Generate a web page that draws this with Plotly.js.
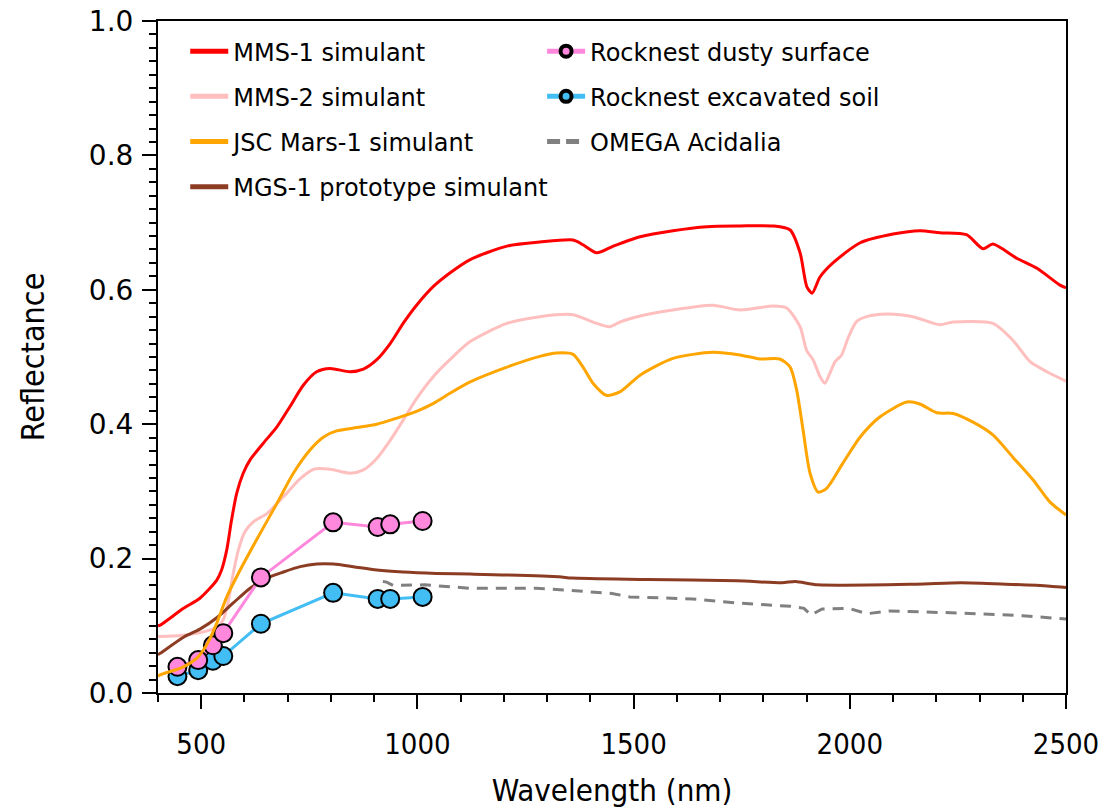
<!DOCTYPE html>
<html>
<head>
<meta charset="utf-8">
<script src="https://cdn.plot.ly/plotly-3.0.1.min.js"></script>
<style>html,body{margin:0;padding:0;background:#fff;}#chart{width:1112px;height:810px;}</style>
</head>
<body>
<div id="chart"></div>
<script>
// ---- data ----
const mms1X = [400,405,459,497,536,547,559,570,582,597,613,644,675,705,736,767,798,844,875,906,937,967,998,1037,1075,1122,1207,1283,1360,1383,1415,1453,1515,1591,1670,1746,1823,1862,1885,1901,1913,1931,1961,2024,2100,2162,2208,2270,2308,2331,2386,2433,2486,2500];
const mms1Y = [0.100,0.101,0.126,0.141,0.168,0.183,0.213,0.257,0.297,0.327,0.347,0.372,0.396,0.426,0.458,0.478,0.483,0.478,0.482,0.496,0.520,0.550,0.577,0.605,0.625,0.645,0.665,0.671,0.674,0.667,0.655,0.665,0.679,0.688,0.694,0.695,0.695,0.689,0.655,0.604,0.595,0.619,0.640,0.670,0.683,0.688,0.685,0.682,0.661,0.668,0.647,0.632,0.607,0.603];

const mms2X = [400,405,459,505,536,551,563,574,586,601,621,652,690,729,760,798,844,875,906,937,967,998,1037,1075,1122,1207,1283,1360,1406,1445,1468,1515,1591,1683,1746,1823,1854,1885,1900,1915,1931,1942,1954,1966,1981,1997,2016,2039,2086,2146,2208,2239,2331,2377,2417,2456,2500];
const mms2Y = [0.084,0.084,0.086,0.091,0.098,0.109,0.138,0.178,0.213,0.240,0.255,0.267,0.292,0.319,0.333,0.333,0.327,0.332,0.349,0.376,0.406,0.438,0.471,0.496,0.523,0.550,0.560,0.563,0.552,0.545,0.552,0.561,0.570,0.577,0.570,0.576,0.573,0.545,0.510,0.496,0.471,0.461,0.476,0.493,0.503,0.530,0.553,0.560,0.564,0.560,0.548,0.552,0.550,0.525,0.493,0.478,0.464];

const jscX = [400,405,459,490,505,520,536,559,590,628,675,713,752,783,813,860,906,952,998,1037,1075,1122,1207,1283,1322,1360,1383,1406,1437,1468,1515,1591,1683,1746,1792,1838,1862,1877,1892,1908,1927,1947,1984,2024,2070,2132,2162,2201,2239,2285,2331,2377,2424,2463,2500];
const jscY = [0.025,0.027,0.039,0.052,0.064,0.081,0.104,0.143,0.183,0.228,0.282,0.327,0.362,0.381,0.390,0.395,0.400,0.409,0.419,0.431,0.446,0.463,0.485,0.501,0.506,0.504,0.485,0.461,0.443,0.448,0.473,0.498,0.507,0.503,0.497,0.497,0.485,0.451,0.391,0.327,0.299,0.305,0.342,0.381,0.411,0.433,0.430,0.417,0.416,0.403,0.384,0.351,0.317,0.284,0.265];

const mgsX = [400,405,459,497,536,574,613,652,690,729,767,806,852,906,967,1044,1122,1327,1357,1533,1739,1843,1874,1926,2153,2257,2360,2463,2500];
const mgsY = [0.057,0.059,0.083,0.095,0.112,0.134,0.156,0.171,0.180,0.188,0.192,0.192,0.188,0.183,0.180,0.178,0.177,0.173,0.171,0.169,0.167,0.164,0.166,0.161,0.162,0.164,0.162,0.159,0.157];

const omegaX = [920,929,944,1017,1119,1274,1348,1399,1450,1491,1637,1739,1863,1894,1910,1936,1960,1998,2040,2091,2257,2400,2500];
const omegaY = [0.166,0.165,0.160,0.161,0.156,0.156,0.153,0.150,0.148,0.143,0.140,0.134,0.129,0.126,0.116,0.125,0.125,0.126,0.118,0.122,0.119,0.115,0.110];

const rockX = [445,493,527,551,638,805,908,937,1012];
const dustyY = [0.039,0.049,0.071,0.089,0.172,0.254,0.247,0.251,0.256];
const excavY = [0.025,0.034,0.048,0.055,0.103,0.149,0.140,0.140,0.143];

const names = ['MMS-1 simulant','MMS-2 simulant','JSC Mars-1 simulant','MGS-1 prototype simulant','Rocknest dusty surface','Rocknest excavated soil','OMEGA Acidalia'];
const xTicks = [500,1000,1500,2000,2500];

// ---- styling ----
const C = {mms1:'#ff0000', mms2:'#ffbfbf', jsc:'#ffa500', mgs:'#8c3c22', dusty:'#ff88dd', excav:'#42bef4', omega:'#808080'};
const LW = 3;

function line(x, y, color, extra) {
  return Object.assign({type:'scatter', mode:'lines', x:x, y:y, line:{color:color, width:LW, shape:'spline', smoothing:0.7}, showlegend:false, hoverinfo:'skip'}, extra || {});
}
function markers(x, y, color) {
  return {type:'scatter', mode:'lines+markers', x:x, y:y, showlegend:false, hoverinfo:'skip',
    line:{color:color, width:LW}, marker:{size:18, color:color, line:{color:'black', width:2}}};
}
function legLine(name, color, lg, extra) {
  return Object.assign({type:'scatter', mode:'lines', x:[null], y:[null], name:name, legend:lg, legendgroup:name,
    line:{color:color, width:5}, showlegend:true, hoverinfo:'skip'}, extra || {});
}
function legMarker(name, color, lg) {
  return {type:'scatter', mode:'lines+markers', x:[null], y:[null], name:name, legend:lg, legendgroup:name,
    line:{color:color, width:5}, marker:{size:11, color:color, line:{color:'black', width:4}}, showlegend:true, hoverinfo:'skip'};
}

const data = [
  line(mms2X, mms2Y, C.mms2),
  line(mgsX, mgsY, C.mgs),
  line(omegaX, omegaY, C.omega, {line:{color:C.omega, width:LW, dash:'11px,8px'}}),
  markers(rockX, excavY, C.excav),
  markers(rockX, dustyY, C.dusty),
  line(jscX, jscY, C.jsc),
  line(mms1X, mms1Y, C.mms1),
  legLine(names[0], C.mms1, 'legend'),
  legLine(names[1], C.mms2, 'legend'),
  legLine(names[2], C.jsc, 'legend'),
  legLine(names[3], C.mgs, 'legend'),
  legMarker(names[4], C.dusty, 'legend2'),
  legMarker(names[5], C.excav, 'legend2'),
  legLine(names[6], C.omega, 'legend2', {line:{color:C.omega, width:5, dash:'13px,6px'}})
];

const condensed = '"DejaVu Sans Condensed", "Liberation Sans Narrow", sans-serif';
const legFont = {family:'"DejaVu Sans", sans-serif', size:24, color:'black'};
const legendBase = {font:legFont, bgcolor:'rgba(0,0,0,0)', borderwidth:0, traceorder:'grouped', tracegroupgap:11, itemwidth:38, xanchor:'left', yanchor:'top', y:0.988};

const layout = {
  width:1112, height:810,
  margin:{l:158, r:46, t:21, b:117, pad:0},
  paper_bgcolor:'white', plot_bgcolor:'white',
  showlegend:true,
  legend: Object.assign({}, legendBase, {x:0.03}),
  legend2: Object.assign({}, legendBase, {x:0.423}),
  xaxis:{
    range:[400,2500], tickmode:'array', tickvals:xTicks, ticktext:xTicks.map(String),
    ticks:'outside', ticklen:14, tickwidth:2, tickcolor:'black',
    showline:true, linewidth:2, linecolor:'black', mirror:true,
    showgrid:false, zeroline:false,
    minor:{tick0:0, dtick:100, ticks:'outside', ticklen:7, tickwidth:2, tickcolor:'black', showgrid:false},
    tickfont:{family:condensed, size:29, color:'black'},
    ticklabelstandoff:10,
    title:{text:'Wavelength (nm)', font:{family:condensed, size:31, color:'black'}, standoff:20}
  },
  yaxis:{
    range:[0,1], tick0:0, dtick:0.2, tickformat:'.1f',
    ticks:'outside', ticklen:14, tickwidth:2, tickcolor:'black',
    showline:true, linewidth:2, linecolor:'black', mirror:true,
    showgrid:false, zeroline:false,
    minor:{tick0:0, dtick:0.02, ticks:'outside', ticklen:7, tickwidth:2, tickcolor:'black', showgrid:false},
    tickfont:{family:'"DejaVu Sans", sans-serif', size:28, color:'black'},
    ticklabelstandoff:3,
    title:{text:'Reflectance', font:{family:condensed, size:32, color:'black'}, standoff:35}
  }
};

Plotly.newPlot('chart', data, layout, {displayModeBar:false, staticPlot:true});
</script>
</body>
</html>
